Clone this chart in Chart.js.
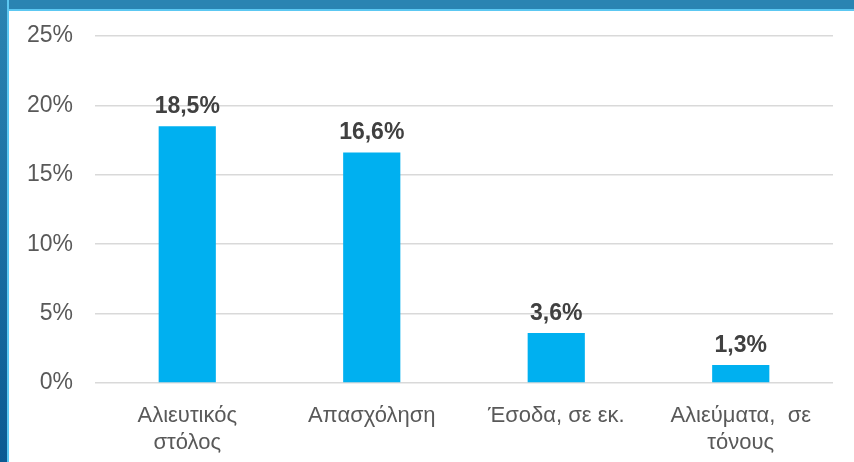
<!DOCTYPE html>
<html><head><meta charset="utf-8">
<script src="https://cdn.jsdelivr.net/npm/chart.js@4/dist/chart.umd.min.js"></script>
<style>
html,body{margin:0;padding:0;width:854px;height:462px;overflow:hidden;background:#fff;}
#top{position:absolute;left:0;top:0;width:854px;height:9px;background:#2a84b2;border-bottom:2px solid #5cc8f2;}
#left{position:absolute;left:0;top:0;width:7px;height:462px;background:linear-gradient(#2a84b2,#0b5a92);border-right:2px solid #5cc8f2;}
#wrap{position:absolute;left:0;top:0;width:854px;height:462px;}
</style></head>
<body>
<div id="wrap"><canvas id="c" width="854" height="462"></canvas></div>
<div id="top"></div><div id="left"></div>
<script>
const categories = [['Αλιευτικός','στόλος'], 'Απασχόληση', 'Έσοδα, σε εκ.', ['Αλιεύματα,  σε','τόνους']];
const values = [18.5, 16.6, 3.6, 1.3];
const valueLabels = ['18,5%', '16,6%', '3,6%', '1,3%'];
const yTicks = [0, 5, 10, 15, 20, 25];

const labelPlugin = {
  id: 'vlabels',
  afterDatasetsDraw(chart) {
    const ctx = chart.ctx;
    const meta = chart.getDatasetMeta(0);
    ctx.save();
    ctx.font = 'bold 23px "Liberation Sans", Arial, sans-serif';
    ctx.fillStyle = '#404040';
    ctx.textAlign = 'center';
    ctx.textBaseline = 'bottom';
    meta.data.forEach((bar, i) => {
      ctx.fillText(valueLabels[i], bar.x, bar.y - 8);
    });
    ctx.restore();
  }
};

new Chart(document.getElementById('c'), {
  type: 'bar',
  data: {
    labels: categories,
    datasets: [{ data: values, backgroundColor: '#00b0f0', categoryPercentage: 1, barPercentage: 0.31 }]
  },
  options: {
    responsive: false,
    animation: false,
    layout: { padding: { left: 10, right: 21, top: 36, bottom: 0 } },
    plugins: { legend: { display: false }, tooltip: { enabled: false } },
    scales: {
      y: {
        min: 0, max: 25,
        afterFit(s) { s.width = 85; },
        afterBuildTicks(s) { s.ticks = yTicks.map(v => ({ value: v })); },
        border: { display: false },
        grid: { color: '#d9d9d9', lineWidth: 1.5, drawTicks: false },
        ticks: {
          padding: 22,
          color: '#595959',
          font: { family: '"Liberation Sans", Arial, sans-serif', size: 23 },
          callback: v => v + '%'
        }
      },
      x: {
        afterFit(s) { s.height = 79; },
        border: { display: false },
        grid: { display: false },
        ticks: {
          padding: 12,
          color: '#595959',
          maxRotation: 0,
          autoSkip: false,
          font: { family: '"Liberation Sans", Arial, sans-serif', size: 22, lineHeight: 1.22 }
        }
      }
    }
  },
  plugins: [labelPlugin]
});
</script>
</body></html>
